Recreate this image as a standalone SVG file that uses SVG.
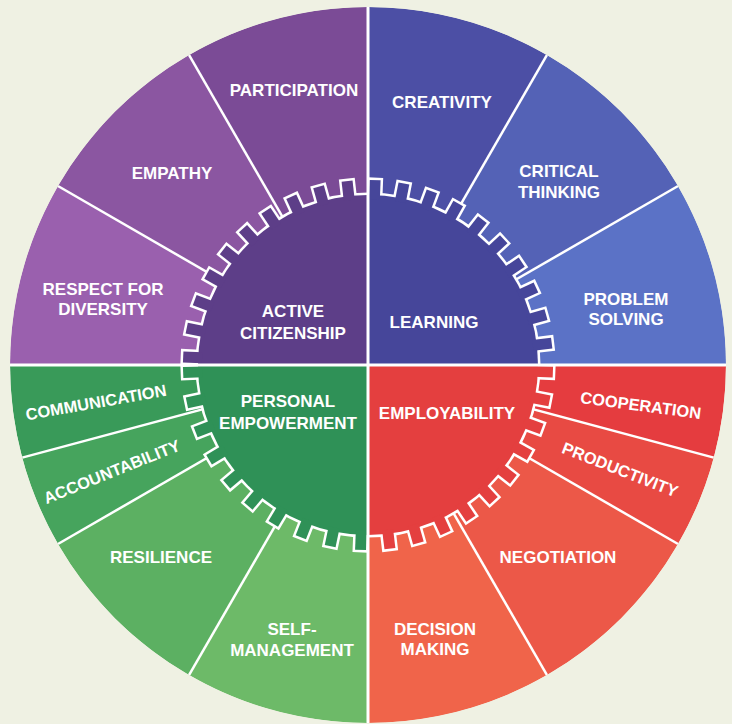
<svg xmlns="http://www.w3.org/2000/svg" width="732" height="724" viewBox="0 0 732 724">
<style>
.t{font-family:"Liberation Sans",Arial,Helvetica,sans-serif;font-weight:bold;font-size:17px;fill:#fff;text-anchor:middle}
.r{font-size:16.5px}
.rl{stroke:#fff;stroke-width:2.5;fill:none}
.qd{stroke:#fff;stroke-width:3;fill:none}
.gw{fill:#fff;stroke:#fff;stroke-width:5;stroke-linejoin:miter}
</style>
<defs>
<clipPath id="disc"><circle cx="368" cy="365" r="358"/></clipPath>
<clipPath id="cqP"><rect x="0" y="0" width="368" height="365"/></clipPath>
<clipPath id="cqB"><rect x="368" y="0" width="364" height="365"/></clipPath>
<clipPath id="cqR"><rect x="368" y="365" width="364" height="359"/></clipPath>
<clipPath id="cqG"><rect x="0" y="365" width="368" height="359"/></clipPath>
<rect id="tooth" x="534" y="359.5" width="19" height="11"/>
<g id="teethP">
<use href="#tooth" transform="rotate(182.5 368 365)"/><use href="#tooth" transform="rotate(191.5 368 365)"/><use href="#tooth" transform="rotate(200.5 368 365)"/><use href="#tooth" transform="rotate(209.5 368 365)"/><use href="#tooth" transform="rotate(218.5 368 365)"/><use href="#tooth" transform="rotate(227.5 368 365)"/><use href="#tooth" transform="rotate(236.5 368 365)"/><use href="#tooth" transform="rotate(245.5 368 365)"/><use href="#tooth" transform="rotate(254.5 368 365)"/><use href="#tooth" transform="rotate(263.5 368 365)"/>
</g>
<g id="teethB">
<use href="#tooth" transform="rotate(272.2 368 365)"/><use href="#tooth" transform="rotate(281.2 368 365)"/><use href="#tooth" transform="rotate(290.2 368 365)"/><use href="#tooth" transform="rotate(299.2 368 365)"/><use href="#tooth" transform="rotate(308.2 368 365)"/><use href="#tooth" transform="rotate(317.2 368 365)"/><use href="#tooth" transform="rotate(326.2 368 365)"/><use href="#tooth" transform="rotate(335.2 368 365)"/><use href="#tooth" transform="rotate(344.2 368 365)"/><use href="#tooth" transform="rotate(353.2 368 365)"/>
</g>
<g id="teethR">
<use href="#tooth" transform="rotate(2.2 368 365)"/><use href="#tooth" transform="rotate(11.2 368 365)"/><use href="#tooth" transform="rotate(20.2 368 365)"/><use href="#tooth" transform="rotate(29.2 368 365)"/><use href="#tooth" transform="rotate(38.2 368 365)"/><use href="#tooth" transform="rotate(47.2 368 365)"/><use href="#tooth" transform="rotate(56.2 368 365)"/><use href="#tooth" transform="rotate(65.2 368 365)"/><use href="#tooth" transform="rotate(74.2 368 365)"/><use href="#tooth" transform="rotate(83.2 368 365)"/>
</g>
<g id="teethG">
<use href="#tooth" transform="rotate(177.7 368 365)"/><use href="#tooth" transform="rotate(168.2 368 365)"/><use href="#tooth" transform="rotate(158.7 368 365)"/><use href="#tooth" transform="rotate(149.2 368 365)"/><use href="#tooth" transform="rotate(139.8 368 365)"/><use href="#tooth" transform="rotate(130.3 368 365)"/><use href="#tooth" transform="rotate(120.8 368 365)"/><use href="#tooth" transform="rotate(111.3 368 365)"/><use href="#tooth" transform="rotate(101.8 368 365)"/><use href="#tooth" transform="rotate(92.3 368 365)"/>
</g>
</defs>

<rect x="0" y="0" width="732" height="724" fill="#eff1e3"/>

<g id="sectors" clip-path="url(#disc)">
<g id="respect-for-diversity"><path d="M368 365 L10 365 A358 358 0 0 1 57.96 186 Z" fill="#9a60ae"/><text class="t" x="103" y="295">RESPECT FOR</text><text class="t" x="103" y="315">DIVERSITY</text></g>
<g id="empathy"><path d="M368 365 L57.96 186 A358 358 0 0 1 189 54.96 Z" fill="#8b56a1"/><text class="t" x="172" y="179">EMPATHY</text></g>
<g id="participation"><path d="M368 365 L189 54.96 A358 358 0 0 1 368 7 Z" fill="#7b4b96"/><text class="t" x="294" y="96">PARTICIPATION</text></g>
<g id="creativity"><path d="M368 365 L368 7 A358 358 0 0 1 547 54.96 Z" fill="#4c4fa5"/><text class="t" x="442" y="108">CREATIVITY</text></g>
<g id="critical-thinking"><path d="M368 365 L547 54.96 A358 358 0 0 1 678.04 186 Z" fill="#5462b6"/><text class="t" x="559" y="177">CRITICAL</text><text class="t" x="559" y="198">THINKING</text></g>
<g id="problem-solving"><path d="M368 365 L678.04 186 A358 358 0 0 1 726 365 Z" fill="#5b72c6"/><text class="t" x="626" y="305">PROBLEM</text><text class="t" x="626" y="325">SOLVING</text></g>
<g id="cooperation"><path d="M368 365 L726 365 A358 358 0 0 1 713.8 457.66 Z" fill="#e53c3f"/><text class="t r" transform="translate(640 411) rotate(7.5)">COOPERATION</text></g>
<g id="productivity"><path d="M368 365 L713.8 457.66 A358 358 0 0 1 678.04 544 Z" fill="#e84a43"/><text class="t r" transform="translate(618 475) rotate(21.5)">PRODUCTIVITY</text></g>
<g id="negotiation"><path d="M368 365 L678.04 544 A358 358 0 0 1 547 675.04 Z" fill="#ec5848"/><text class="t" x="558" y="563">NEGOTIATION</text></g>
<g id="decision-making"><path d="M368 365 L547 675.04 A358 358 0 0 1 368 723 Z" fill="#f0644a"/><text class="t" x="435" y="635">DECISION</text><text class="t" x="435" y="655">MAKING</text></g>
<g id="self-management"><path d="M368 365 L368 723 A358 358 0 0 1 189 675.04 Z" fill="#6dba68"/><text class="t" x="292" y="635">SELF-</text><text class="t" x="292" y="656">MANAGEMENT</text></g>
<g id="resilience"><path d="M368 365 L189 675.04 A358 358 0 0 1 57.96 544 Z" fill="#5cb062"/><text class="t" x="161" y="563">RESILIENCE</text></g>
<g id="accountability"><path d="M368 365 L57.96 544 A358 358 0 0 1 22.2 457.66 Z" fill="#46a45d"/><text class="t r" transform="translate(114 477) rotate(-22)">ACCOUNTABILITY</text></g>
<g id="communication"><path d="M368 365 L22.2 457.66 A358 358 0 0 1 10 365 Z" fill="#399a59"/><text class="t r" transform="translate(97 408) rotate(-10)">COMMUNICATION</text></g>
</g>

<g id="connectors" clip-path="url(#disc)">
<line class="rl" x1="368" y1="365" x2="57.96" y2="186"/>
<line class="rl" x1="368" y1="365" x2="189" y2="54.96"/>
<line class="rl" x1="368" y1="365" x2="547" y2="54.96"/>
<line class="rl" x1="368" y1="365" x2="678.04" y2="186"/>
<line class="rl" x1="368" y1="365" x2="713.8" y2="457.66"/>
<line class="rl" x1="368" y1="365" x2="678.04" y2="544"/>
<line class="rl" x1="368" y1="365" x2="547" y2="675.04"/>
<line class="rl" x1="368" y1="365" x2="189" y2="675.04"/>
<line class="rl" x1="368" y1="365" x2="57.96" y2="544"/>
<line class="rl" x1="368" y1="365" x2="22.2" y2="457.66"/>
</g>

<g id="active-citizenship" clip-path="url(#cqP)">
<circle class="gw" cx="368" cy="365" r="170"/><use href="#teethP" class="gw"/>
<circle cx="368" cy="365" r="170" fill="#5d3e88"/><use href="#teethP" fill="#5d3e88"/>
<text class="t" x="293" y="317">ACTIVE</text><text class="t" x="293" y="339">CITIZENSHIP</text>
</g>
<g id="learning" clip-path="url(#cqB)">
<circle class="gw" cx="368" cy="365" r="170"/><use href="#teethB" class="gw"/>
<circle cx="368" cy="365" r="170" fill="#46469a"/><use href="#teethB" fill="#46469a"/>
<text class="t" x="434" y="328">LEARNING</text>
</g>
<g id="employability" clip-path="url(#cqR)">
<circle class="gw" cx="368" cy="365" r="170"/><use href="#teethR" class="gw"/>
<circle cx="368" cy="365" r="170" fill="#e43f3f"/><use href="#teethR" fill="#e43f3f"/>
<text class="t" x="447" y="419">EMPLOYABILITY</text>
</g>
<g id="personal-empowerment" clip-path="url(#cqG)">
<circle class="gw" cx="368" cy="365" r="170"/><use href="#teethG" class="gw"/>
<circle cx="368" cy="365" r="170" fill="#2f9157"/><use href="#teethG" fill="#2f9157"/>
<text class="t" x="288" y="407">PERSONAL</text><text class="t" x="288" y="429">EMPOWERMENT</text>
</g>

<g id="quadrant-dividers" clip-path="url(#disc)">
<line class="qd" x1="0" y1="365" x2="732" y2="365"/>
<line class="qd" x1="368" y1="0" x2="368" y2="724"/>
</g>
</svg>
